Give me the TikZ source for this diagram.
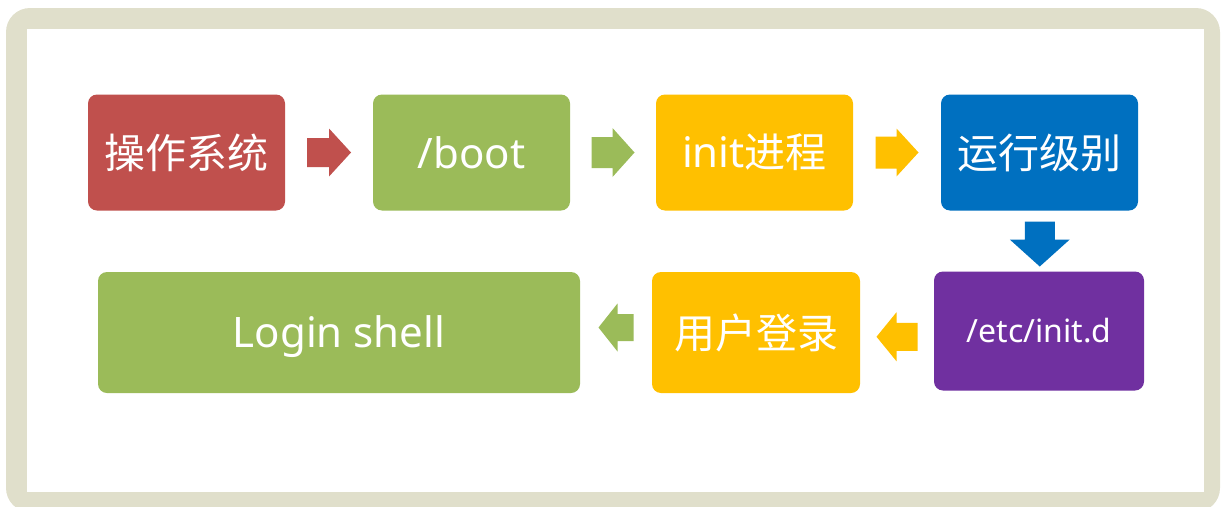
\documentclass[tikz,border=0pt]{standalone}
\usepackage{fontspec}
\setmainfont{Noto Sans}
\newfontfamily\cjk{Noto Sans CJK SC}
\usetikzlibrary{calc}
\definecolor{cred}{HTML}{C0504D}
\definecolor{cgreen}{HTML}{9BBB59}
\definecolor{corange}{HTML}{FFC000}
\definecolor{cblue}{HTML}{0070C0}
\definecolor{cpurple}{HTML}{7030A0}
\definecolor{cframe}{HTML}{E0DFCB}
\tikzset{
  box/.style={rounded corners=9pt, text=white, inner sep=0pt, font=\fontsize{42}{48}\selectfont},
  pics/barrow/.style n args={5}{code={
    \fill[#5] ({-#1/2},{-#4/2}) -- ({#1/2-#2},{-#4/2}) -- ({#1/2-#2},{-#3/2}) -- ({#1/2},0)
      -- ({#1/2-#2},{#3/2}) -- ({#1/2-#2},{#4/2}) -- ({-#1/2},{#4/2}) -- cycle;
  }}
}
\newcommand{\zh}[1]{{\cjk\fontsize{41}{48}\selectfont #1}}
\begin{document}
\begin{tikzpicture}[x=1pt,y=-1pt]
\useasboundingbox (0,0) rectangle (1222,506);
% frame
\fill[cframe, rounded corners=24pt] (6,8) rectangle (1220,512);
\fill[white] (27,29) rectangle (1204,492);
% boxes
\node[box, fill=cred, minimum width=197pt, minimum height=116pt] (os) at (186.5,152.5) {\zh{操作系统}};
\node[box, fill=cgreen, minimum width=197pt, minimum height=116pt] (boot) at (471.5,152.5) {/boot};
\node[box, fill=corange, minimum width=197pt, minimum height=116pt] (init) at (754.5,152.5) {init\zh{进程}};
\node[box, fill=cblue, minimum width=197pt, minimum height=116pt] (run) at (1039.5,152.5) {\zh{运行级别}};
\node[box, fill=cpurple, minimum width=210pt, minimum height=119pt, font=\fontsize{32}{38}\selectfont] (etc) at (1039,331) {/etc/init.d};
\node[box, fill=corange, minimum width=208pt, minimum height=121pt] (user) at (756,332.5) {\zh{用户登录}};
\node[box, fill=cgreen, minimum width=482pt, minimum height=121pt] (login) at (339,332.5) {\raisebox{-4pt}[\height][\depth]{Login shell}};
% arrows
\pic at ($(os.east)!0.5!(boot.west)$) {barrow={44}{22}{48}{29}{cred}};
\pic at ($(boot.east)!0.5!(init.west)$) {barrow={43}{22}{49}{31}{cgreen}};
\pic at ($(init.east)!0.5!(run.west)$) {barrow={43}{22}{48}{32}{corange}};
\pic[rotate=-90] at ($(run.south)!0.5!(etc.north)+(0.5,3)$) {barrow={45}{27}{60}{30}{cblue}};
\pic[rotate=180] at ($(etc.west)!0.5!(user.east)+(0,5)$) {barrow={41}{20}{49}{28}{corange}};
\pic[rotate=180] at ($(user.west)!0.5!(login.east)+(0,-5)$) {barrow={35}{19}{48}{27}{cgreen}};
\end{tikzpicture}
\end{document}
